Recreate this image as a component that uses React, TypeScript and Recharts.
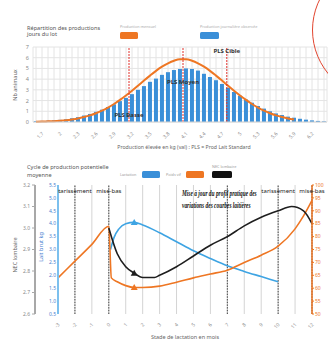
import React from 'react';
import { ComposedChart, Bar, Line, XAxis, YAxis, CartesianGrid, ReferenceLine } from 'recharts';

// ---------- Top chart: distribution of daily production ----------
const PROD_LEVELS = [1.6, 1.7, 1.8, 1.9, 2.0, 2.1, 2.2, 2.3, 2.4, 2.5, 2.6, 2.7, 2.8, 2.9, 3.0, 3.1, 3.2, 3.3, 3.4, 3.5, 3.6, 3.7, 3.8, 3.9, 4.0, 4.1, 4.2, 4.3, 4.4, 4.5, 4.6, 4.7, 4.8, 4.9, 5.0, 5.1, 5.2, 5.3, 5.4, 5.5, 5.6, 5.7, 5.8, 5.9, 6.0, 6.1, 6.2, 6.3, 6.4];
const HERD_COUNTS = [0.08, 0.1, 0.12, 0.15, 0.2, 0.25, 0.35, 0.45, 0.6, 0.75, 0.95, 1.15, 1.4, 1.65, 1.95, 2.25, 2.6, 3.0, 3.35, 3.75, 4.05, 4.4, 4.65, 4.85, 4.95, 5.0, 4.95, 4.8, 4.5, 4.2, 3.9, 3.55, 3.2, 2.8, 2.45, 2.1, 1.8, 1.5, 1.25, 1.0, 0.8, 0.65, 0.5, 0.4, 0.3, 0.22, 0.15, 0.1, 0.06];
const NORMAL_FIT = [0.03, 0.04, 0.06, 0.08, 0.12, 0.17, 0.24, 0.33, 0.46, 0.62, 0.82, 1.06, 1.35, 1.68, 2.06, 2.48, 2.92, 3.39, 3.87, 4.33, 4.77, 5.16, 5.48, 5.72, 5.85, 5.85, 5.72, 5.48, 5.16, 4.77, 4.33, 3.87, 3.39, 2.92, 2.48, 2.06, 1.68, 1.35, 1.06, 0.82, 0.62, 0.46, 0.33, 0.24, null, null, null, null, null];
const PROD_TICKS = [1.7, 2, 2.3, 2.6, 2.9, 3.2, 3.5, 3.8, 4.1, 4.4, 4.7, 5, 5.3, 5.6, 5.9, 6.2];
const COUNT_TICKS = [0, 1, 2, 3, 4, 5, 6, 7];
const PLS_NAMES = ['PLS Basse', 'PLS Moyen', 'PLS Cible'];
const PLS_VALUES = [3.15, 4.05, 4.78];

// ---------- Bottom chart: production cycle ----------
const MONTH_TICKS = [-3, -2, -1, 0, 1, 2, 3, 4, 5, 6, 7, 8, 9, 10, 11, 12];
const EVENT_MONTHS = [-2, 0, 7, 10, 12];
const EVENT_LABELS = ['tarissement', 'mise-bas', '', 'tarissement', 'mise-bas'];
const MARK_MONTH = 1.5;

const WEIGHT_MONTHS = [-3, -2, -1, 0, 0.15, 0.5, 1, 1.5, 2, 3, 4, 5, 6, 7, 8, 9, 10, 11, 11.5, 12];
const WEIGHT_KG = [64, 70.5, 77, 84, 64, 62.5, 61, 60.3, 60.3, 60.8, 62.3, 64, 65.5, 67, 70, 72.8, 76.3, 83, 88, 94];

const MILK_MONTHS = [0.1, 0.3, 0.6, 1, 1.5, 2, 3, 4, 5, 6, 7, 8, 9, 10];
const MILK_KG = [3.0, 3.45, 3.8, 4.0, 4.05, 3.95, 3.65, 3.3, 2.95, 2.65, 2.37, 2.15, 1.95, 1.75];

const NEC_MONTHS = [0, 0.5, 1, 1.5, 2, 2.7, 3, 4, 5, 6, 7, 8, 9, 10, 10.8, 11.5, 12];
const NEC_VALUES = [3.0, 2.88, 2.82, 2.79, 2.77, 2.77, 2.78, 2.82, 2.87, 2.92, 2.96, 3.01, 3.05, 3.08, 3.1, 3.08, 3.02];

const MILK_TICKS = [0.5, 1, 1.5, 2, 2.5, 3, 3.5, 4, 4.5, 5, 5.5];
const NEC_TICKS = [2.6, 2.7, 2.8, 2.9, 3.0, 3.1, 3.2];
const WEIGHT_TICKS = [50, 55, 60, 65, 70, 75, 80, 85, 90, 95, 100];

const FONT = '"Noto Sans", "DejaVu Sans", sans-serif';
const BLUE_BAR = '#3a8fd8';
const ORANGE = '#ee7623';
const BLUE_LINE = '#3ea4e3';

const distTable = PROD_LEVELS.map((p, i) => ({ p, n: HERD_COUNTS[i], fit: NORMAL_FIT[i] }));

const allMonths = Array.from(new Set([...WEIGHT_MONTHS, ...MILK_MONTHS, ...NEC_MONTHS])).sort((a, b) => a - b);
const pick = (ms: number[], vs: number[], m: number) => {
  const i = ms.indexOf(m);
  return i >= 0 ? vs[i] : undefined;
};
const cycleTable = allMonths.map((m) => ({
  m,
  w: pick(WEIGHT_MONTHS, WEIGHT_KG, m),
  milk: pick(MILK_MONTHS, MILK_KG, m),
  nec: pick(NEC_MONTHS, NEC_VALUES, m),
}));

const ProdTick = (props: any) => {
  const { x, y, payload } = props;
  const show = PROD_TICKS.some((t) => Math.abs(t - payload.value) < 1e-6);
  if (!show) return <g />;
  const yy = y + 4;
  return (
    <text x={x + 2} y={yy} transform={`rotate(-45 ${x + 2} ${yy})`} textAnchor="end" fontSize={5} fill="#8a8a8a" fontFamily={FONT}>
      {String(payload.value)}
    </text>
  );
};

const MonthTick = (props: any) => {
  const { x, y, payload } = props;
  const yy = y + 3;
  return (
    <text x={x + 2} y={yy} transform={`rotate(-45 ${x + 2} ${yy})`} textAnchor="end" fontSize={5} fill="#8a8a8a" fontFamily={FONT}>
      {String(payload.value)}
    </text>
  );
};

const triangleDot = (color: string) => (props: any) => {
  const { cx, cy, payload, index } = props;
  if (cx == null || cy == null || !payload || payload.m !== MARK_MONTH) return <g key={`d${index}`} />;
  return <path key={`d${index}`} d={`M${cx},${cy - 3.5} L${cx + 3.5},${cy + 2.5} L${cx - 3.5},${cy + 2.5} Z`} fill={color} />;
};

const Txt = ({ x, y, size, color = '#555', children, style = {} }: any) => (
  <div style={{ position: 'absolute', left: x, top: y, fontSize: size, color, lineHeight: 1.1, whiteSpace: 'nowrap', ...style }}>{children}</div>
);

const VTxt = ({ cx, cy, size, color = '#666', children }: any) => (
  <div style={{ position: 'absolute', left: cx, top: cy, fontSize: size, color, whiteSpace: 'nowrap', lineHeight: 1, transform: 'translate(-50%, -50%) rotate(-90deg)' }}>{children}</div>
);

const Swatch = ({ x, y, w, color }: any) => (
  <div style={{ position: 'absolute', left: x, top: y, width: w, height: 7, background: color, borderRadius: 1.5 }} />
);

export default function App() {
  const plsOffsets = [66, 33, 2];
  return (
    <div style={{ position: 'absolute', left: 0, top: 0, width: 328, height: 347, overflow: 'hidden', background: '#fff', fontFamily: FONT }}>
      {/* top chart */}
      <div style={{ position: 'absolute', left: 0, top: 0 }}>
        <ComposedChart width={328} height={160} data={distTable} margin={{ top: 47, right: 1, bottom: 10, left: 0 }} barCategoryGap="16%">
          <CartesianGrid stroke="#e4e4e4" />
          <XAxis dataKey="p" type="category" interval={0} tick={<ProdTick />} tickLine={false} axisLine={{ stroke: '#d6d6d6' }} height={28} />
          <XAxis xAxisId="num" dataKey="p" type="number" domain={[1.55, 6.45]} allowDataOverflow hide />
          <YAxis domain={[0, 7]} ticks={COUNT_TICKS} interval={0} width={33} tickSize={2} tickMargin={2} tickLine={false} axisLine={false} tick={{ fontSize: 5.5, fill: '#8a8a8a' }} />
          <Bar dataKey="n" fill={BLUE_BAR} isAnimationActive={false} />
          <Line dataKey="fit" type="monotone" stroke={ORANGE} strokeWidth={2} dot={false} isAnimationActive={false} />
          {PLS_VALUES.map((v, i) => (
            <ReferenceLine key={PLS_NAMES[i]} xAxisId="num" x={v} stroke="#e0302a" strokeDasharray="2 1" strokeWidth={1}
              label={{ value: PLS_NAMES[i], position: 'insideTop', offset: plsOffsets[i], fontSize: 6, fill: '#333', fontWeight: 'bold' }} />
          ))}
        </ComposedChart>
      </div>

      {/* bottom chart */}
      <div style={{ position: 'absolute', left: 0, top: 160 }}>
        <ComposedChart width={328} height={187} data={cycleTable} margin={{ top: 25, right: 0, bottom: 13, left: 0 }}>
          <CartesianGrid vertical horizontal={false} stroke="#d4d4d4" yAxisId="nec" />
          <XAxis dataKey="m" type="number" domain={[-3, 12]} ticks={MONTH_TICKS} interval={0} tick={<MonthTick />} tickLine={false} axisLine={false} height={20} />
          <YAxis yAxisId="milk" orientation="left" domain={[0.5, 5.5]} ticks={MILK_TICKS} interval={0} width={23} tickSize={1} tickMargin={1}
            tickFormatter={(v: number) => v.toFixed(1)} tick={{ fontSize: 5, fill: '#4a7fd0' }} axisLine={{ stroke: '#7cc0ee', strokeWidth: 2 }} tickLine={false} />
          <YAxis yAxisId="nec" orientation="left" domain={[2.6, 3.2]} ticks={NEC_TICKS} interval={0} width={35} tickSize={3} tickMargin={2}
            tickFormatter={(v: number) => v.toFixed(1)} tick={{ fontSize: 5, fill: '#8a8a8a' }} axisLine={{ stroke: '#a8a8a8', strokeWidth: 2 }} tickLine={{ stroke: '#a8a8a8' }} />
          <YAxis yAxisId="w" orientation="right" domain={[50, 100]} ticks={WEIGHT_TICKS} interval={0} width={16} tickSize={2} tickMargin={1}
            tick={{ fontSize: 5, fill: ORANGE }} axisLine={{ stroke: ORANGE, strokeWidth: 1.5 }} tickLine={{ stroke: ORANGE }} />
          {EVENT_MONTHS.map((m, i) => (
            <ReferenceLine key={`ev${m}`} yAxisId="nec" x={m} stroke="#444" strokeDasharray="1.5 1.2" strokeWidth={1}
              label={EVENT_LABELS[i] ? { value: EVENT_LABELS[i], position: 'insideTop', offset: 4, fontSize: 6, fill: '#222' } : undefined} />
          ))}
          <Line yAxisId="milk" dataKey="milk" type="monotone" stroke={BLUE_LINE} strokeWidth={1.6} connectNulls dot={triangleDot(BLUE_LINE)} activeDot={false} isAnimationActive={false} />
          <Line yAxisId="w" dataKey="w" type="monotone" stroke={ORANGE} strokeWidth={1.6} connectNulls dot={triangleDot(ORANGE)} activeDot={false} isAnimationActive={false} />
          <Line yAxisId="nec" dataKey="nec" type="monotone" stroke="#1e1e1e" strokeWidth={1.6} connectNulls dot={triangleDot('#1e1e1e')} activeDot={false} isAnimationActive={false} />
        </ComposedChart>
      </div>

      {/* texts top */}
      <Txt x={27} y={24.5} size={5.6} color="#555" style={{ lineHeight: '6.5px' }}>Répartition des productions<br />jours du lot</Txt>
      <Txt x={120} y={25} size={3.8} color="#aaa">Production mensuel</Txt>
      <Swatch x={120} y={32} w={18} color={ORANGE} />
      <Txt x={200} y={25} size={3.8} color="#aaa">Production journalière observée</Txt>
      <Swatch x={200} y={32} w={19} color={BLUE_BAR} />
      <VTxt cx={16} cy={85} size={5.5}>Nb animaux</VTxt>
      <div style={{ position: 'absolute', left: 184, top: 145, transform: 'translateX(-50%)', fontSize: 5.2, color: '#666', whiteSpace: 'nowrap', lineHeight: 1 }}>
        Production élevée en kg (val) : PLS = Prod Lait Standard
      </div>

      {/* texts bottom */}
      <Txt x={27} y={163} size={5.6} color="#555" style={{ lineHeight: '8px' }}>Cycle de production potentielle<br />moyenne</Txt>
      <Txt x={120} y={172.5} size={3.8} color="#999">Lactation</Txt>
      <Swatch x={142} y={171} w={18} color={BLUE_BAR} />
      <Txt x={166} y={172.5} size={3.8} color="#999">Poids vif</Txt>
      <Swatch x={186} y={171} w={18} color={ORANGE} />
      <Txt x={212} y={164.5} size={3.8} color="#999">NEC lombaire</Txt>
      <Swatch x={212} y={171} w={20} color="#111" />
      <VTxt cx={16} cy={255} size={5.5}>NEC lombaire</VTxt>
      <VTxt cx={42} cy={247} size={5.5} color="#4a7fd0">Lait brut kg</VTxt>
      <div style={{ position: 'absolute', left: 182, top: 188, fontFamily: '"Liberation Serif", serif', fontStyle: 'italic', fontWeight: 'bold', fontSize: 7.5, lineHeight: '12px', color: '#111', whiteSpace: 'nowrap', transform: 'scaleX(0.72)', transformOrigin: 'left top' }}>
        Mise à jour du profil pratique des<br />variations des courbes laitières
      </div>
      <div style={{ position: 'absolute', left: 185, top: 335, transform: 'translateX(-50%)', fontSize: 5.5, color: '#666', whiteSpace: 'nowrap', lineHeight: 1 }}>
        Stade de lactation en mois
      </div>

      {/* decorative red circle */}
      <div style={{ position: 'absolute', left: 312, top: -39, width: 138, height: 138, borderRadius: '50%', border: '1.5px solid #e2452f', boxSizing: 'border-box' }} />
    </div>
  );
}
